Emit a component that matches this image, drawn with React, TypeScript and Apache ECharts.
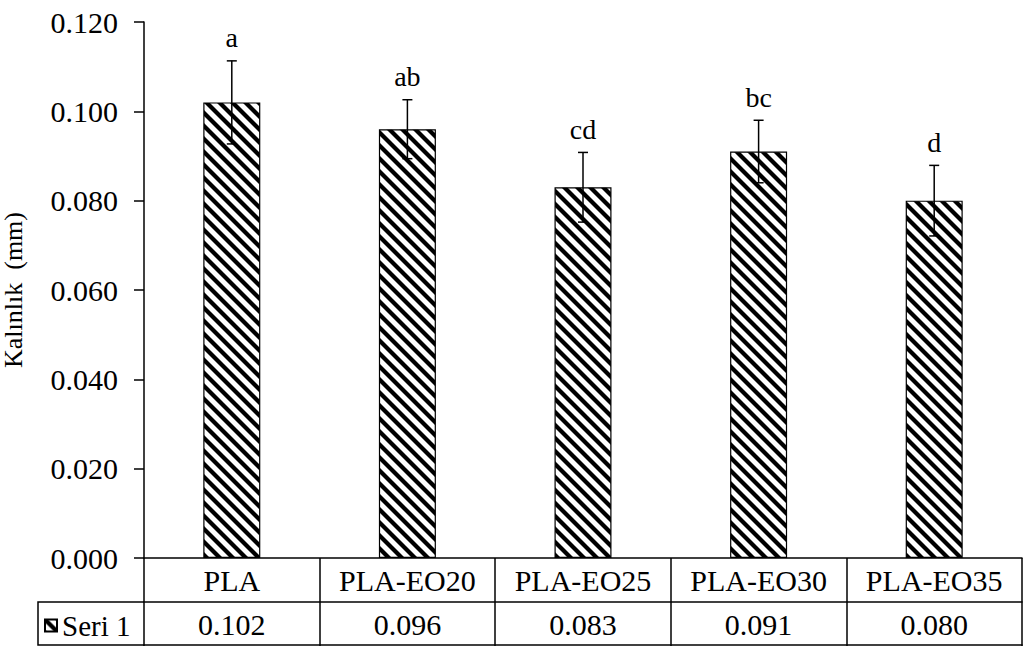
import React, { useEffect, useRef } from "react";
import * as echarts from "echarts";

// Thickness of PLA films with essential-oil loadings
const categories = ["PLA", "PLA-EO20", "PLA-EO25", "PLA-EO30", "PLA-EO35"];
const means = [0.102, 0.096, 0.083, 0.091, 0.08];
const stdDevs = [0.0093, 0.0066, 0.0078, 0.007, 0.0079];
const groupLetters = ["a", "ab", "cd", "bc", "d"];
const yTicks = { min: 0, max: 0.12, interval: 0.02 };
const seriesName = "Seri 1";

const FONT = "Liberation Serif";

// Diagonal "\" hatch tile used as the bar fill
function makeHatch(): HTMLCanvasElement {
  const s = 13;
  const c = document.createElement("canvas");
  c.width = s;
  c.height = s;
  const ctx = c.getContext("2d")!;
  ctx.fillStyle = "#ffffff";
  ctx.fillRect(0, 0, s, s);
  ctx.strokeStyle = "#000000";
  ctx.lineWidth = 4.2;
  for (const k of [-1, 0, 1]) {
    ctx.beginPath();
    ctx.moveTo(-2, -2 + k * s);
    ctx.lineTo(s + 2, s + 2 + k * s);
    ctx.stroke();
  }
  return c;
}

export default function App() {
  const ref = useRef<HTMLDivElement>(null);

  useEffect(() => {
    document.body.style.margin = "0";
    if (!ref.current) return;
    const chart = echarts.init(ref.current, undefined, { renderer: "svg" });
    const hatch = { image: makeHatch(), repeat: "repeat" as const };

    const gridLeft = 144;
    const gridTop = 22;
    const gridRight = 2;
    const gridBottom = 89;
    const rowH = 44;
    const axisY = 647 - gridBottom;

    const tableLine = { show: true, lineStyle: { color: "#000", width: 1.5 } };
    const labelText = { color: "#000", fontFamily: FONT, fontSize: 30 };

    chart.setOption({
      animation: false,
      backgroundColor: "#fff",
      textStyle: { fontFamily: FONT },
      grid: {
        left: gridLeft,
        right: gridRight,
        top: gridTop,
        bottom: gridBottom,
        containLabel: false,
        outerBoundsMode: "none",
      },
      legend: {
        data: [seriesName],
        left: 44,
        top: axisY + rowH + 9,
        itemWidth: 12,
        itemHeight: 12,
        itemGap: 4,
        padding: 0,
        textStyle: { ...labelText, fontSize: 29, padding: [0, 0, 0, 0] },
        icon: "rect",
      },
      xAxis: [
        {
          type: "category",
          data: categories,
          position: "bottom",
          axisLine: tableLine,
          axisTick: { show: true, interval: 0, length: rowH * 2, lineStyle: { color: "#000", width: 1.5 } },
          axisLabel: { ...labelText, interval: 0, hideOverlap: false, margin: 8, lineHeight: 29 },
        },
        {
          type: "category",
          data: means.map((v) => v.toFixed(3)),
          position: "bottom",
          offset: rowH,
          axisLine: tableLine,
          axisTick: { show: false },
          axisLabel: { ...labelText, interval: 0, hideOverlap: false, margin: 8, lineHeight: 29 },
        },
        {
          type: "category",
          data: categories,
          position: "bottom",
          offset: rowH * 2 - 1,
          axisLine: tableLine,
          axisTick: { show: false },
          axisLabel: { show: false },
        },
      ],
      yAxis: {
        type: "value",
        min: yTicks.min,
        max: yTicks.max,
        interval: yTicks.interval,
        name: "Kalınlık  (mm)",
        nameLocation: "middle",
        nameRotate: 90,
        nameGap: 118,
        nameTextStyle: { ...labelText, fontSize: 26 },
        axisLine: { show: true, lineStyle: { color: "#000", width: 1.5 } },
        axisTick: { show: true, length: 10, lineStyle: { color: "#000", width: 1.5 } },
        axisLabel: { ...labelText, margin: 26, formatter: (v: number) => v.toFixed(3) },
        splitLine: { show: false },
      },
      graphic: [
        {
          type: "polyline",
          shape: {
            points: [
              [gridLeft, axisY + rowH],
              [38, axisY + rowH],
              [38, axisY + rowH * 2 - 1],
              [gridLeft, axisY + rowH * 2 - 1],
            ],
          },
          style: { stroke: "#000", lineWidth: 1.5, fill: null },
          silent: true,
        },
      ],
      series: [
        {
          name: seriesName,
          type: "bar",
          data: means,
          barWidth: 57,
          itemStyle: { color: hatch, borderColor: "#000", borderWidth: 1.2 },
        },
        {
          name: "err",
          type: "custom",
          z: 5,
          data: means.map((m, i) => [i, m, stdDevs[i]]),
          encode: { x: 0, y: 1 },
          renderItem: (params: any, api: any) => {
            const i = api.value(0);
            const m = api.value(1);
            const sd = api.value(2);
            const top = api.coord([i, m + sd]);
            const bot = api.coord([i, m - sd]);
            const hw = 5;
            const style = { stroke: "#000", lineWidth: 1.5 };
            return {
              type: "group",
              children: [
                { type: "line", shape: { x1: top[0], y1: top[1], x2: bot[0], y2: bot[1] }, style },
                { type: "line", shape: { x1: top[0] - hw, y1: top[1], x2: top[0] + hw, y2: top[1] }, style },
                { type: "line", shape: { x1: bot[0] - hw, y1: bot[1], x2: bot[0] + hw, y2: bot[1] }, style },
                {
                  type: "text",
                  x: top[0],
                  y: top[1] - 9,
                  style: {
                    text: groupLetters[params.dataIndex],
                    fill: "#000",
                    fontFamily: FONT,
                    fontSize: 28,
                    align: "center",
                    verticalAlign: "bottom",
                  },
                },
              ],
            };
          },
        },
      ],
    });

    return () => chart.dispose();
  }, []);

  return <div ref={ref} style={{ width: 1024, height: 647 }} />;
}
